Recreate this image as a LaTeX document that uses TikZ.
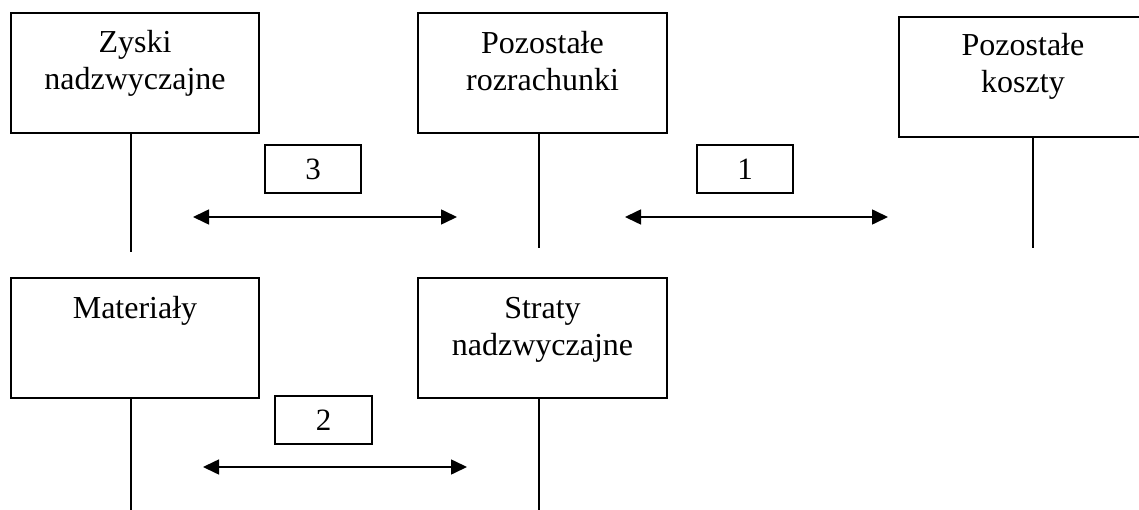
\documentclass[tikz,border=0pt]{standalone}
\usepackage{fontspec}
\setmainfont{Liberation Serif}
\usetikzlibrary{arrows.meta}
\begin{document}
\begin{tikzpicture}[x=1pt,y=-1pt,
  bigbox/.style={draw,line width=1.6pt,minimum width=248pt,minimum height=120pt,inner sep=0pt},
  numbox/.style={draw,line width=1.6pt,minimum width=96pt,minimum height=48pt,inner sep=0pt,font=\fontsize{31}{36}\selectfont},
  lbl/.style={anchor=base,align=center,inner sep=0pt,font=\fontsize{32}{37}\selectfont},
  stem/.style={line width=1.6pt},
  dbl/.style={line width=1.6pt,{Triangle[length=16pt,width=15pt]}-{Triangle[length=16pt,width=15pt]}}]
\useasboundingbox (0,0) rectangle (1139,510);
% big boxes
\node[bigbox] (A) at (135,73) {};
\node[lbl] (At) at (135,90) {Zyski\\nadzwyczajne};
\node[bigbox,minimum width=249pt] (B) at (542.5,73) {};
\node[lbl] (Bt) at (542.5,91) {Pozostałe\\rozrachunki};
\node[bigbox] (C) at (1023,77) {};
\node[lbl] (Ct) at (1023,93) {Pozostałe\\koszty};
\node[bigbox] (D) at (135,338) {};
\node[lbl] (Dt) at (135,318) {Materiały};
\node[bigbox,minimum width=249pt] (E) at (542.5,338) {};
\node[lbl] (Et) at (542.5,355) {Straty\\nadzwyczajne};
% stems
\coordinate (a1) at (131,252);
\coordinate (b1) at (539,248);
\coordinate (c1) at (1033,248);
\coordinate (d1) at (131,510);
\coordinate (e1) at (539,510);
\draw[stem] (A.south -| a1) -- (a1);
\draw[stem] (B.south -| b1) -- (b1);
\draw[stem] (C.south -| c1) -- (c1);
\draw[stem] (D.south -| d1) -- (d1);
\draw[stem] (E.south -| e1) -- (e1);
% number boxes
\node[numbox] (n3) at (313,169) {3};
\node[numbox] (n1) at (745,169) {1};
\node[numbox,minimum width=97pt] (n2) at (323.5,420) {2};
% arrows
\coordinate (p3a) at (193,217);
\coordinate (p3b) at (457,217);
\coordinate (p1a) at (625,217);
\coordinate (p1b) at (888,217);
\coordinate (p2a) at (203,467);
\coordinate (p2b) at (467,467);
\draw[dbl] (p3a) -- (p3b);
\draw[dbl] (p1a) -- (p1b);
\draw[dbl] (p2a) -- (p2b);
\end{tikzpicture}
\end{document}
